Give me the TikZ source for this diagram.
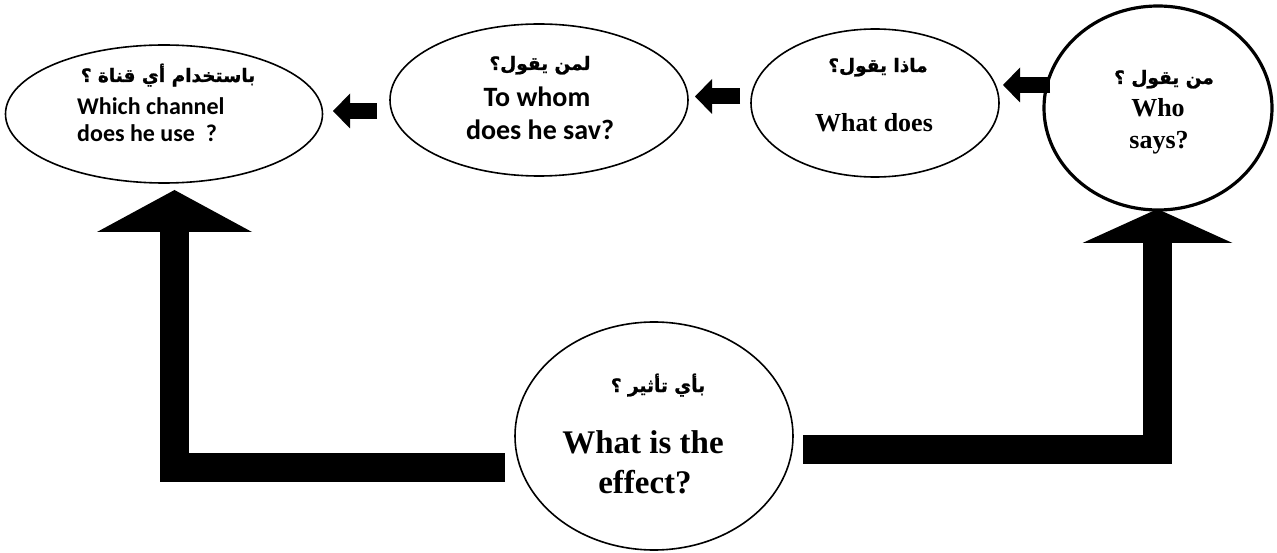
\documentclass[tikz,border=0pt]{standalone}
\usepackage{fontspec}
\usetikzlibrary{shapes.geometric,arrows.meta,calc}
\TeXXeTstate=1
\newfontfamily\arabicfont[Script=Arabic,FakeBold=1.2]{DejaVu Sans}
\newfontfamily\calfont{Carlito}
\newfontfamily\serfont{Liberation Serif}
\tikzset{
  ell/.style={draw, ellipse, inner sep=0pt, line width=1.6pt},
  bigarr/.style={line width=29pt, line join=miter, line cap=butt},
  smallarr/.style={line width=16pt, line cap=butt, -{Triangle[width=35pt,length=17pt,line width=0pt]}},
  ar/.style={font=\arabicfont\bfseries\fontsize{18.5}{22}\selectfont, inner sep=0pt, anchor=base},
  cal/.style={font=\calfont\bfseries\fontsize{24}{28}\selectfont, inner sep=0pt},
  ser/.style={font=\serfont\bfseries\fontsize{26}{30}\selectfont, inner sep=0pt, anchor=base}
}
\begin{document}
\begin{tikzpicture}[x=1pt,y=-1pt]
\useasboundingbox (0,0) rectangle (1277,553);

% ellipses
\node[ell, minimum width=317pt, minimum height=138pt] (E1) at (164,114) {};
\node[ell, minimum width=298pt, minimum height=152pt] (E2) at (539,100) {};
\node[ell, minimum width=248pt, minimum height=148pt] (E3) at (875,103) {};
\node[ell, line width=3.2pt, minimum width=228pt, minimum height=204pt] (E4) at (1158,108) {};
\node[ell, minimum width=278pt, minimum height=228pt] (E5) at (654,436) {};

% texts
\node[ar] (t1a) at (168,82) {\beginR باستخدام أي قناة  ؟\endR};
\node[cal, anchor=base west] (t1b) at (77,115) {Which channel};
\node[cal, anchor=base west] (t1c) at (77,142) {does he use\ \ ?};

\node[ar] (t2a) at (540,70) {\beginR لمن يقول؟\endR};
\node[cal, font=\calfont\bfseries\fontsize{28}{32}\selectfont, anchor=base] (t2b) at (537,107) {To whom};
\node[cal, font=\calfont\bfseries\fontsize{28}{32}\selectfont, anchor=base] (t2c) at (540,140) {does he sav?};

\node[ar] (t3a) at (878,72) {\beginR ماذا يقول؟\endR};
\node[ser] (t3b) at (874,132) {What does};

\node[ar] (t4a) at (1164,84) {\beginR من يقول ؟\endR};
\node[ser] (t4b) at (1158,117) {Who};
\node[ser] (t4c) at (1159,149) {says?};

\node[ar] (t5a) at (658,392) {\beginR بأي تأثير ؟\endR};
\node[ser, font=\serfont\bfseries\fontsize{33}{36}\selectfont] (t5b) at (643,453) {What is the};
\node[ser, font=\serfont\bfseries\fontsize{33}{36}\selectfont] (t5c) at (645,493) {effect?};

% small arrows
\coordinate (a1s) at (377,111);
\coordinate (a1e) at (333,111);
\draw[smallarr] (a1s) -- (a1e);
\coordinate (a2s) at (740,96.5);
\coordinate (a2e) at (695,96.5);
\draw[smallarr] (a2s) -- (a2e);
\coordinate (a3s) at ($(E4.center)+(-108,-23)$);
\coordinate (a3e) at (1003,85);
\draw[smallarr] (a3s) -- (a3e);

% big bent arrows
\coordinate (LT) at (174.5,190);
\coordinate (RT) at (1157.5,209);
\draw[bigarr, -{Triangle[width=155pt,length=42pt,line width=0pt]}]
  ($(E5.center)+(-149,31.5)$) -| (LT);
\draw[bigarr, -{Triangle[width=150pt,length=34pt,line width=0pt]}]
  ($(E5.center)+(149,13.5)$) -| (RT);
\end{tikzpicture}
\end{document}
